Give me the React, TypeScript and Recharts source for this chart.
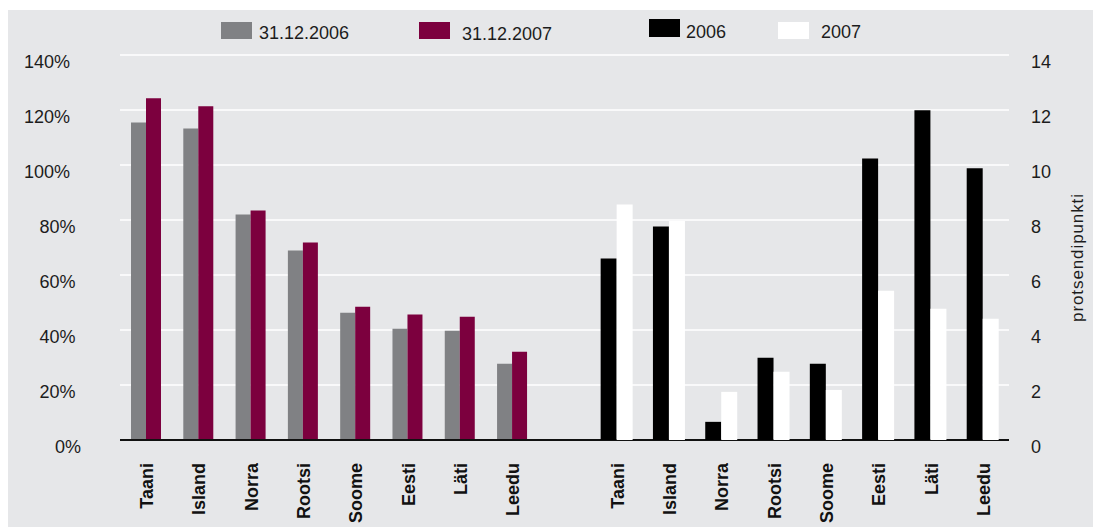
import React from "react";
import { BarChart, Bar, XAxis, YAxis, CartesianGrid } from "recharts";

// countries, same order in both groups
const countries = ["Taani", "Island", "Norra", "Rootsi", "Soome", "Eesti", "Läti", "Leedu"];

// left group, % (left axis)
const share2006 = [115.5, 113.3, 82.0, 68.9, 46.3, 40.5, 39.7, 27.7];
const share2007 = [124.3, 121.4, 83.5, 71.8, 48.5, 45.6, 44.8, 32.1];

// right group, protsendipunkti (right axis)
const change2006 = [6.6, 7.76, 0.66, 2.99, 2.77, 10.24, 11.99, 9.88];
const change2007 = [8.56, 7.96, 1.75, 2.48, 1.82, 5.43, 4.77, 4.41];

const percentTicks = [0, 20, 40, 60, 80, 100, 120, 140];
const pointTicks = [0, 2, 4, 6, 8, 10, 12, 14];

const legendLabels = ["31.12.2006", "31.12.2007", "2006", "2007"];

const GREY = "#808184";
const MAROON = "#7c003e";
const BLACK = "#000000";
const WHITE = "#ffffff";
const BG = "#e6e7e9";
const INK = "#1c1c1c";
const FONT = "'Liberation Sans', Arial, Helvetica, sans-serif";

const legendColors = [GREY, MAROON, BLACK, WHITE];
const legendLayout = [
  { sx: 221, sy: 22, sh: 17, tx: 259, ty: 32.5 },
  { sx: 419, sy: 22, sh: 17, tx: 462, ty: 34 },
  { sx: 649, sy: 19, sh: 18, tx: 686, ty: 32 },
  { sx: 778, sy: 22, sh: 17, tx: 821, ty: 32 },
];

// one category axis: 8 left slots, an empty spacer, 8 right slots
const rows = [
  ...countries.map((name, i) => ({ name, s06: share2006[i], s07: share2007[i] })),
  { name: "" },
  ...countries.map((name, i) => ({ name, c06: change2006[i], c07: change2007[i] })),
];

const CategoryTick = (props: any) => {
  const { x, y, payload } = props;
  const bx = x + 7;
  return (
    <text
      x={bx}
      y={y}
      transform={`rotate(-90 ${bx} ${y})`}
      textAnchor="end"
      fontFamily={FONT}
      fontWeight="bold"
      fontSize={18}
      fill="#111"
    >
      {payload.value}
    </text>
  );
};

const PercentTick = (props: any) => {
  const { x, y, payload } = props;
  const label = `${payload.value}%`;
  return (
    <text
      x={x - 5.5 * (label.length - 2)}
      y={y + 6.5}
      dy="0.35em"
      textAnchor="end"
      fontFamily={FONT}
      fontSize={18}
      fill={INK}
    >
      {label}
    </text>
  );
};

const PointTick = (props: any) => {
  const { x, y, payload } = props;
  return (
    <text x={x} y={y + 6.5} dy="0.35em" textAnchor="start" fontFamily={FONT} fontSize={18} fill={INK}>
      {payload.value}
    </text>
  );
};

const AxisTitle = (props: any) => {
  const vb = props.viewBox;
  const cx = vb.x + 68;
  const cy = vb.y + vb.height / 2 + 10;
  return (
    <text
      x={cx}
      y={cy}
      transform={`rotate(-90 ${cx} ${cy})`}
      textAnchor="middle"
      dominantBaseline="central"
      fontFamily={FONT}
      fontSize={17}
      letterSpacing={0.9}
      fill={INK}
    >
      protsendipunkti
    </text>
  );
};

export default function App() {
  return (
    <div style={{ position: "absolute", left: 0, top: 0, width: 1093, height: 527, background: "#fff", overflow: "hidden" }}>
      <div style={{ position: "absolute", left: 8, top: 10, right: 0, bottom: 0, background: BG }} />

      {legendLabels.map((label, i) => {
        const l = legendLayout[i];
        return (
          <React.Fragment key={label}>
            <div style={{ position: "absolute", left: l.sx, top: l.sy, width: 31, height: l.sh, background: legendColors[i] }} />
            <div
              style={{
                position: "absolute",
                left: l.tx,
                top: l.ty - 10,
                height: 20,
                lineHeight: "20px",
                fontFamily: FONT,
                fontSize: 18,
                color: INK,
                whiteSpace: "nowrap",
              }}
            >
              {label}
            </div>
          </React.Fragment>
        );
      })}

      {/* bottom layer: grid, left axis, categories, left group */}
      <div style={{ position: "absolute", left: 0, top: 0 }}>
        <BarChart width={1093} height={527} data={rows} margin={{ top: 55, right: 84, bottom: 0, left: 0 }} barGap={0}>
          <CartesianGrid vertical={false} stroke={WHITE} strokeWidth={1.5} />
          <XAxis
            dataKey="name"
            height={87}
            interval={0}
            tickLine={false}
            tickSize={0}
            tickMargin={23}
            axisLine={{ stroke: "#111", strokeWidth: 2 }}
            tick={<CategoryTick />}
          />
          <YAxis
            width={120}
            domain={[0, 140]}
            ticks={percentTicks}
            axisLine={false}
            tickLine={false}
            tickSize={0}
            tickMargin={39}
            tick={<PercentTick />}
          />
          <Bar dataKey="s06" fill={GREY} barSize={15} isAnimationActive={false} />
          <Bar dataKey="s07" fill={MAROON} barSize={15} isAnimationActive={false} />
        </BarChart>
      </div>

      {/* top layer: right axis, right group */}
      <div style={{ position: "absolute", left: 0, top: 0 }}>
        <BarChart width={1093} height={527} data={rows} margin={{ top: 55, right: 0, bottom: 87, left: 120 }} barGap={0}>
          <XAxis dataKey="name" hide />
          <YAxis
            yAxisId="r"
            orientation="right"
            width={84}
            domain={[0, 14]}
            ticks={pointTicks}
            axisLine={false}
            tickLine={false}
            tickSize={0}
            tickMargin={22}
            tick={<PointTick />}
            label={(p: any) => <AxisTitle {...p} />}
          />
          <Bar yAxisId="r" dataKey="c06" fill={BLACK} barSize={16} isAnimationActive={false} />
          <Bar yAxisId="r" dataKey="c07" fill={WHITE} barSize={16} isAnimationActive={false} />
        </BarChart>
      </div>
    </div>
  );
}
